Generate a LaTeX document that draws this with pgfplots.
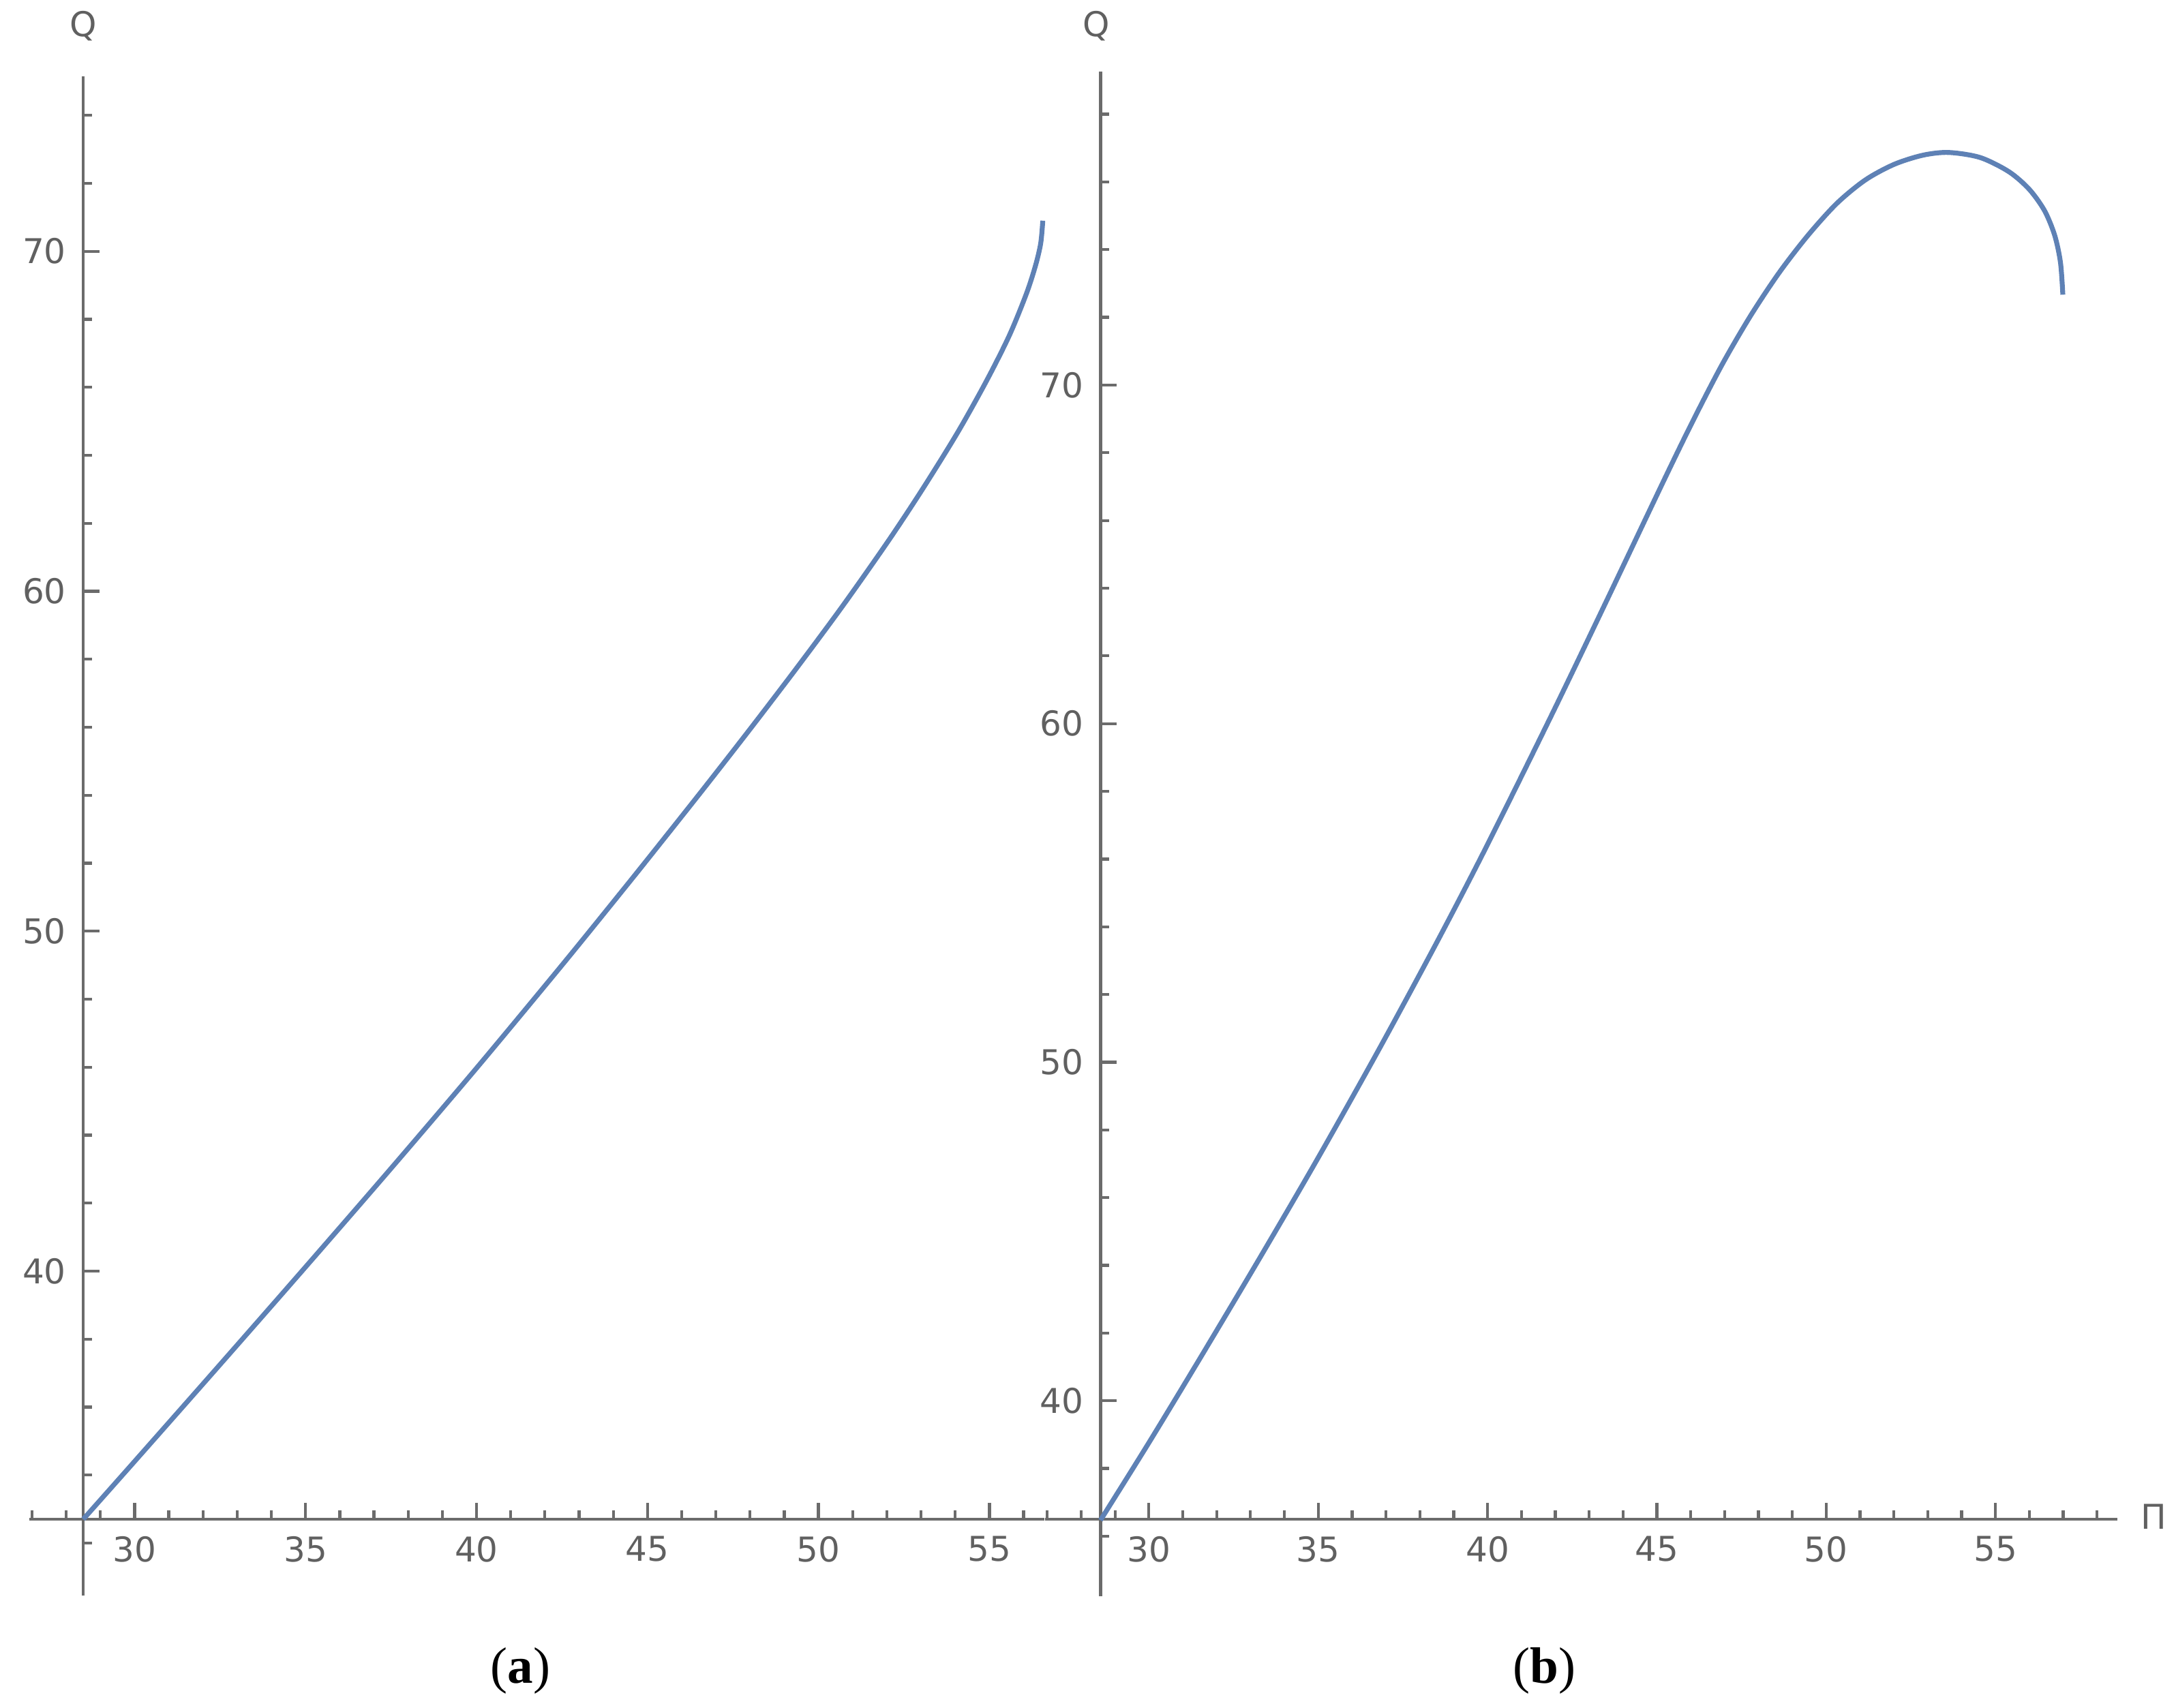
\documentclass[border=0pt]{standalone}
\usepackage{fontspec}
\setmainfont{Liberation Serif}
\newfontfamily\tickfont{DejaVu Sans}
\usepackage{pgfplots}
\pgfplotsset{compat=1.18}
\definecolor{axgray}{RGB}{107,107,107}
\definecolor{labgray}{RGB}{96,96,96}
\definecolor{curveblue}{RGB}{94,129,181}

\pgfplotsset{mma/.style={
    axis lines=left,
    axis line style={-, draw=axgray, line width=0.6pt},
    tick style={draw=axgray, line width=0.6pt},
    tick align=inside,
    major tick length=0.118cm,
    minor tick length=0.064cm,
    xtick={30,35,...,55},
    ytick={40,50,60,70},
    minor xtick={27,28,...,58},
    minor ytick={32,34,...,78},
    ticklabel style={font=\tickfont\fontsize{7}{8}\selectfont, text=labgray},
    /pgf/number format/assume math mode=true,
    clip=false,
}}

\begin{document}
\begin{tikzpicture}
\useasboundingbox (0,-1.36) rectangle (15.68,10.95);

% (a)
\begin{axis}[mma,
    at={(0.2132cm,-0.551cm)}, anchor=south west,
    x=0.2464cm, y=0.245cm,
    xmin=26.93, xmax=56.6, ymin=30.45, ymax=75.15,
    axis x line shift=-0.551cm, axis y line shift=-0.3868cm,
]
\addplot[curveblue, line width=1pt, smooth] coordinates {
    (28.5,32.7) (30,34.40) (32.5,37.25) (35,40.12) (37.5,43.02) (40,45.97)
    (42.5,49.0) (44.33,51.27) (45.34,52.54) (46.68,54.24) (48.02,55.97)
    (49.37,57.75) (50.71,59.57) (52.05,61.49) (53.06,63.03) (54.07,64.67)
    (54.91,66.18) (55.58,67.52) (56.08,68.75) (56.35,69.59) (56.5,70.24) (56.56,70.9)
};
\end{axis}

% (b)
\begin{axis}[mma,
    at={(7.532cm,-0.556cm)}, anchor=south west,
    x=0.244cm, y=0.244cm,
    xmin=26.94, xmax=58.6, ymin=34.22, ymax=79.25,
    axis x line shift=-0.556cm, axis y line shift=-0.398cm,
]
\addplot[curveblue, line width=1pt, smooth] coordinates {
    (28.57,36.47) (30,38.76) (31.55,41.32) (33.3,44.26) (35,47.18) (36.79,50.37)
    (38.54,53.61) (40,56.43) (41.92,60.31) (43.56,63.72) (45.23,67.23)
    (46.08,68.97) (46.93,70.61) (47.77,72.05) (48.62,73.33) (49.47,74.43)
    (50.32,75.37) (51.16,76.06) (52.01,76.52) (52.86,76.79) (53.62,76.87)
    (54.55,76.72) (55.40,76.30) (56.00,75.78) (56.45,75.15) (56.75,74.42)
    (56.92,73.62) (56.99,72.67)
};
\end{axis}

\node[font=\tickfont\fontsize{7}{8}\selectfont, text=labgray] at (0.60,10.76) {Q};
\node[font=\tickfont\fontsize{7}{8}\selectfont, text=labgray] at (7.90,10.76) {Q};
\node[font=\tickfont\fontsize{7}{8}\selectfont, text=labgray] at (15.52,0.02) {Π};

\node[font=\fontsize{10.5}{12}\selectfont] at (3.75,-1.09) {(\textbf{a})};
\node[font=\fontsize{10.5}{12}\selectfont] at (11.13,-1.09) {(\textbf{b})};
\end{tikzpicture}
\end{document}
